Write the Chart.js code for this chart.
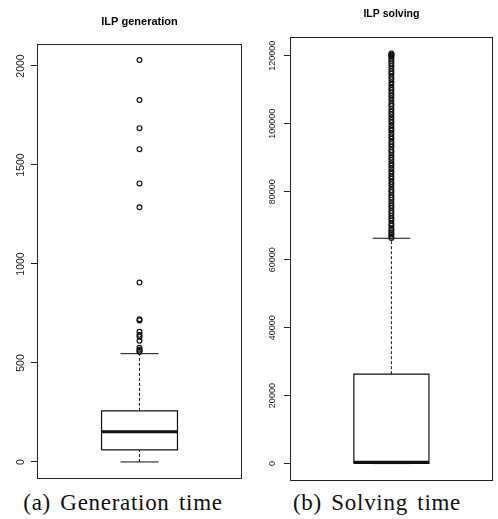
<!DOCTYPE html>
<html>
<head>
<meta charset="utf-8">
<script src="https://cdn.jsdelivr.net/npm/chart.js@4/dist/chart.umd.min.js"></script>
<style>
  body { margin:0; background:#fff; }
  #wrap { position:relative; width:498px; height:519px; overflow:hidden; }
  canvas { position:absolute; top:0; }
  .caption { position:absolute; top:491px; font-family:"Liberation Serif", serif; font-size:23px; letter-spacing:0.7px; word-spacing:3px; color:#111; text-align:center; line-height:24px; white-space:nowrap; }
</style>
</head>
<body>
<div id="wrap">
  <canvas id="genChart" width="250" height="490" style="left:0"></canvas>
  <canvas id="solveChart" width="248" height="490" style="left:250px"></canvas>
  <div class="caption" style="left:0; width:246px;">(a) Generation time</div>
  <div class="caption" style="left:250px; width:254px;">(b) Solving time</div>
</div>
<script>
// box stats: whisker low, q1, median, q3, whisker high
const genStats = [0, 61, 152, 258, 547];
const genOutliers = [556, 560, 567, 577, 612, 632, 642, 658, 715, 721, 906, 1286, 1407, 1580, 1686, 1828, 2030];
const genTicks = [0, 500, 1000, 1500, 2000];
const genRange = [-81, 2111];

const solveStats = [0, 50, 400, 26300, 66300];
const solveOutliers = [66400, 66900, 67500, 68100, 68700, 69200, 70000, 70600, 71500, 72200, 72900, 73700, 74300, 75200, 75900, 76700, 77600, 78300, 79000, 79900, 80500, 81400, 82200, 82900, 83800, 84500, 85300, 86000, 86900, 87700, 88400, 89300, 90000, 90800, 91700, 92300, 93200, 94000, 94700, 95600, 96300, 97100, 98000, 98700, 99500, 100400, 101100, 101900, 102800, 103500, 104300, 105200, 105800, 106700, 107500, 108300, 109100, 109900, 110600, 111500, 112200, 113100, 113800, 114700, 115400, 116200, 117000, 117700, 118500, 119100, 119700, 120100, 120400, 120700];
const solveTicks = [0, 20000, 40000, 60000, 80000, 100000, 120000];
const solveRange = [-4830, 125530];

const BOX_HALF = 0.2, CAP_HALF = 0.1;

function seg(x1, y1, x2, y2, extra) {
  return Object.assign({
    type: 'line',
    data: [{x:x1, y:y1}, {x:x2, y:y2}],
    borderColor: '#111',
    borderWidth: 1,
    pointRadius: 0,
    fill: false
  }, extra || {});
}

const framePlugin = {
  id: 'frame',
  afterDraw(chart, args, opts) {
    const ctx = chart.ctx, a = chart.chartArea, ys = chart.scales.y;
    ctx.save();
    ctx.strokeStyle = '#222';
    ctx.lineWidth = 1;
    ctx.strokeRect(Math.round(a.left) + 0.5, Math.round(a.top) + 0.5, Math.round(a.right - a.left) - 1, Math.round(a.bottom - a.top));
    // rotated tick labels
    ctx.fillStyle = '#222';
    ctx.font = opts.tickSize + 'px "Liberation Sans", Arial, sans-serif';
    ctx.textAlign = 'center';
    ctx.textBaseline = 'middle';
    ys.ticks.forEach(t => {
      ctx.save();
      ctx.translate(opts.labelX, ys.getPixelForValue(t.value));
      ctx.rotate(-Math.PI / 2);
      ctx.fillText(String(t.value), 0, 0);
      ctx.restore();
    });
    // title
    ctx.fillStyle = '#000';
    ctx.font = 'bold ' + opts.titleSize + 'px "Liberation Sans", Arial, sans-serif';
    ctx.fillText(opts.title, (a.left + a.right) / 2, opts.titleY);
    ctx.restore();
  }
};

function makeBoxChart(id, stats, outliers, ticks, range, cfg) {
  const [lo, q1, med, q3, hi] = stats;
  const datasets = [
    seg(1, q3, 1, hi, {borderDash: [3, 2]}),
    seg(1, lo, 1, q1, {borderDash: [3, 2]}),
    seg(1 - CAP_HALF, hi, 1 + CAP_HALF, hi),
    seg(1 - CAP_HALF, lo, 1 + CAP_HALF, lo),
    {
      type: 'line',
      data: [{x:1-BOX_HALF, y:q1}, {x:1+BOX_HALF, y:q1}, {x:1+BOX_HALF, y:q3}, {x:1-BOX_HALF, y:q3}, {x:1-BOX_HALF, y:q1}],
      borderColor: '#111', borderWidth: 1.2, pointRadius: 0, fill: false
    },
    seg(1 - BOX_HALF, med, 1 + BOX_HALF, med, {borderWidth: 3}),
    {
      type: 'scatter',
      data: outliers.map(v => ({x:1, y:v})),
      pointRadius: 2.4,
      pointBorderWidth: 1.2,
      pointBorderColor: '#111',
      pointBackgroundColor: 'rgba(0,0,0,0)'
    }
  ];
  return new Chart(document.getElementById(id), {
    data: { datasets },
    options: {
      responsive: false,
      animation: false,
      devicePixelRatio: 1,
      layout: { padding: cfg.padding },
      plugins: {
        legend: { display: false },
        tooltip: { enabled: false },
        frame: cfg.frame
      },
      scales: {
        x: { type: 'linear', display: false, min: 0.46, max: 1.54 },
        y: {
          type: 'linear',
          min: range[0],
          max: range[1],
          afterBuildTicks: s => { s.ticks = ticks.map(v => ({value: v})); },
          afterFit: s => { s.width = cfg.axisWidth; },
          ticks: { display: false },
          grid: { drawOnChartArea: false, drawTicks: true, tickLength: 6, color: '#222' },
          border: { display: true, color: '#222' }
        }
      }
    },
    plugins: [framePlugin]
  });
}

makeBoxChart('genChart', genStats, genOutliers, genTicks, genRange, {
  axisWidth: 37,
  padding: {left: 0, right: 8, top: 44, bottom: 12},
  frame: {title: 'ILP generation', titleY: 22, titleSize: 11, tickSize: 10.5, labelX: 21}
});

makeBoxChart('solveChart', solveStats, solveOutliers, solveTicks, solveRange, {
  axisWidth: 40,
  padding: {left: 0, right: 1, top: 37, bottom: 10},
  frame: {title: 'ILP solving', titleY: 14, titleSize: 10.5, tickSize: 9, labelX: 23}
});
</script>
</body>
</html>
